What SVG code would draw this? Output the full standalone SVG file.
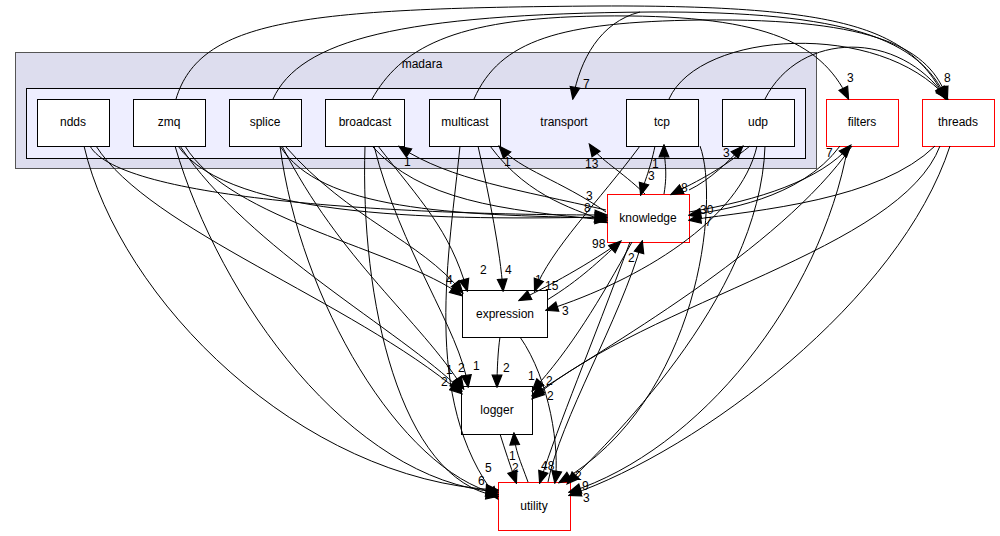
<svg xmlns="http://www.w3.org/2000/svg" width="1000" height="536" viewBox="0 0 1000 536">
<style>
text{font-family:"Liberation Sans",Arial,sans-serif;font-size:12px;fill:#000}
.n{fill:#fff;stroke:#000;stroke-width:1}
.r{fill:#fff;stroke:#ff0000;stroke-width:1}
.e path{fill:none;stroke:#000;stroke-width:1;marker-end:url(#a)}
.l{text-anchor:middle}
</style>
<defs><marker id="a" viewBox="0 0 10 10" refX="9" refY="5" markerWidth="14" markerHeight="12" markerUnits="userSpaceOnUse" orient="auto"><path d="M0,1L10,5L0,9z" fill="#000" stroke="#000"/></marker></defs>
<g id="madara"><rect x="15.500" y="52.500" width="801" height="116" fill="#ddddee" stroke="#555"/><text x="422" y="68" class="l">madara</text></g>
<g id="transport"><rect x="26.500" y="88.500" width="779" height="70" fill="#eeeeff" stroke="#000"/><text x="564" y="126" class="l">transport</text></g>
<g id="ndds"><rect class="n" x="37.500" y="99.500" width="72" height="47"/><text x="73" y="126" class="l">ndds</text></g>
<g id="zmq"><rect class="n" x="133.500" y="99.500" width="72" height="47"/><text x="169" y="126" class="l">zmq</text></g>
<g id="splice"><rect class="n" x="229.500" y="99.500" width="72" height="47"/><text x="265" y="126" class="l">splice</text></g>
<g id="broadcast"><rect class="n" x="325.500" y="99.500" width="79" height="47"/><text x="365" y="126" class="l">broadcast</text></g>
<g id="multicast"><rect class="n" x="429.500" y="99.500" width="71" height="47"/><text x="465" y="126" class="l">multicast</text></g>
<g id="tcp"><rect class="n" x="626.500" y="99.500" width="72" height="47"/><text x="662" y="126" class="l">tcp</text></g>
<g id="udp"><rect class="n" x="722.500" y="99.500" width="72" height="47"/><text x="758" y="126" class="l">udp</text></g>
<g id="filters"><rect class="r" x="826.500" y="99.500" width="72" height="47"/><text x="862" y="126" class="l">filters</text></g>
<g id="threads"><rect class="r" x="922.500" y="99.500" width="72" height="47"/><text x="958" y="126" class="l">threads</text></g>
<g id="knowledge"><rect class="r" x="607.500" y="194.500" width="82" height="48"/><text x="648" y="222" class="l">knowledge</text></g>
<g id="expression"><rect class="n" x="462.500" y="290.500" width="85" height="47"/><text x="505" y="318" class="l">expression</text></g>
<g id="logger"><rect class="n" x="461.500" y="386.500" width="71" height="48"/><text x="497" y="414" class="l">logger</text></g>
<g id="utility"><rect class="r" x="498.500" y="482.500" width="72" height="48"/><text x="534" y="510" class="l">utility</text></g>
<g class="e" id="edges">
<path d="M176,99C200,20 300,8 600,6C850,5 910,30 945,98"/>
<path d="M273,99C300,40 400,14 650,12C850,11 920,40 946,98"/>
<path d="M372,99C400,50 450,18 600,16C760,14 820,40 848,98"/>
<path d="M474,99C500,40 560,22 700,20C880,18 930,50 947,98"/>
<path d="M669,99C700,30 880,20 947,98"/>
<path d="M765,99C800,30 900,30 946,98"/>
<path d="M640,12C600,22 580,60 573,98"/>
<path d="M90,146C120,200 400,215 606,215"/>
<path d="M96,146C150,230 350,300 461,393"/>
<path d="M84,146C120,300 300,480 497,490"/>
<path d="M178,146C230,220 450,220 606,217"/>
<path d="M185,146C230,220 400,250 461,295"/>
<path d="M180,146C250,250 400,330 461,390"/>
<path d="M175,146C220,300 350,480 497,492"/>
<path d="M280,146C320,210 450,215 606,218"/>
<path d="M285,146C350,220 420,240 462,292"/>
<path d="M282,146C340,260 420,320 463,388"/>
<path d="M280,146C300,300 400,470 497,494"/>
<path d="M372,146C420,200 500,210 606,220"/>
<path d="M378,146C420,200 450,230 467,290"/>
<path d="M374,146C400,250 460,330 468,386"/>
<path d="M365,146C360,300 400,480 497,496"/>
<path d="M460,146C450,250 420,400 497,498"/>
<path d="M478,146C490,200 500,250 503,290"/>
<path d="M490,146C530,200 580,210 606,222"/>
<path d="M640,146C600,200 550,250 535,290"/>
<path d="M655,146C650,170 645,180 641,194"/>
<path d="M700,146C720,200 700,400 560,482"/>
<path d="M757,146C740,220 640,280 547,310"/>
<path d="M765,146C760,300 600,450 568,483"/>
<path d="M750,146C720,170 700,180 672,194"/>
<path d="M848,146C820,300 700,450 570,492"/>
<path d="M840,146C800,200 720,210 690,215"/>
<path d="M852,146C780,250 600,350 533,395"/>
<path d="M935,146C880,200 760,210 690,220"/>
<path d="M940,146C900,250 650,300 533,398"/>
<path d="M950,146C900,300 700,450 570,495"/>
<path d="M645,194C620,170 600,160 590,145"/>
<path d="M606,210C520,190 450,180 400,147"/>
<path d="M606,212C560,180 520,170 500,147"/>
<path d="M664,194C668,170 664,160 664,146"/>
<path d="M689,190C710,180 730,160 742,147"/>
<path d="M689,212C760,200 820,180 850,146"/>
<path d="M620,242C580,270 540,290 520,300"/>
<path d="M547,300C580,280 600,260 620,242"/>
<path d="M500,337C498,350 497,370 497,386"/>
<path d="M520,337C550,380 560,450 555,482"/>
<path d="M632,242C600,300 570,350 533,390"/>
<path d="M630,242C590,350 560,420 540,482"/>
<path d="M548,482C560,420 620,320 642,242"/>
<path d="M500,434C505,450 510,465 516,482"/>
<path d="M528,482C520,460 515,450 514,434"/>
</g>
<g id="labels">
<text x="583" y="88">7</text><text x="847" y="82">3</text><text x="944" y="82">8</text>
<text x="585" y="168">13</text><text x="652" y="168">1</text><text x="648" y="180">3</text>
<text x="723" y="157">3</text><text x="681" y="192">8</text><text x="826" y="157">7</text>
<text x="700" y="214">30</text><text x="705" y="226">7</text><text x="504" y="166">1</text><text x="404" y="166">1</text>
<text x="586" y="200">3</text><text x="584" y="212">8</text><text x="592" y="248">98</text>
<text x="628" y="262">2</text><text x="446" y="284">4</text><text x="480" y="274">2</text><text x="505" y="274">4</text>
<text x="535" y="284">1</text><text x="545" y="290">15</text><text x="562" y="315">3</text>
<text x="446" y="374">1</text><text x="441" y="386">2</text><text x="458" y="372">2</text><text x="473" y="370">1</text>
<text x="503" y="372">2</text><text x="528" y="380">1</text><text x="546" y="385">2</text><text x="547" y="400">2</text>
<text x="509" y="460">1</text><text x="512" y="472">2</text><text x="485" y="472">5</text><text x="478" y="485">6</text>
<text x="541" y="470">48</text><text x="575" y="480">2</text><text x="582" y="490">9</text><text x="583" y="502">3</text>
</g>
</svg>
